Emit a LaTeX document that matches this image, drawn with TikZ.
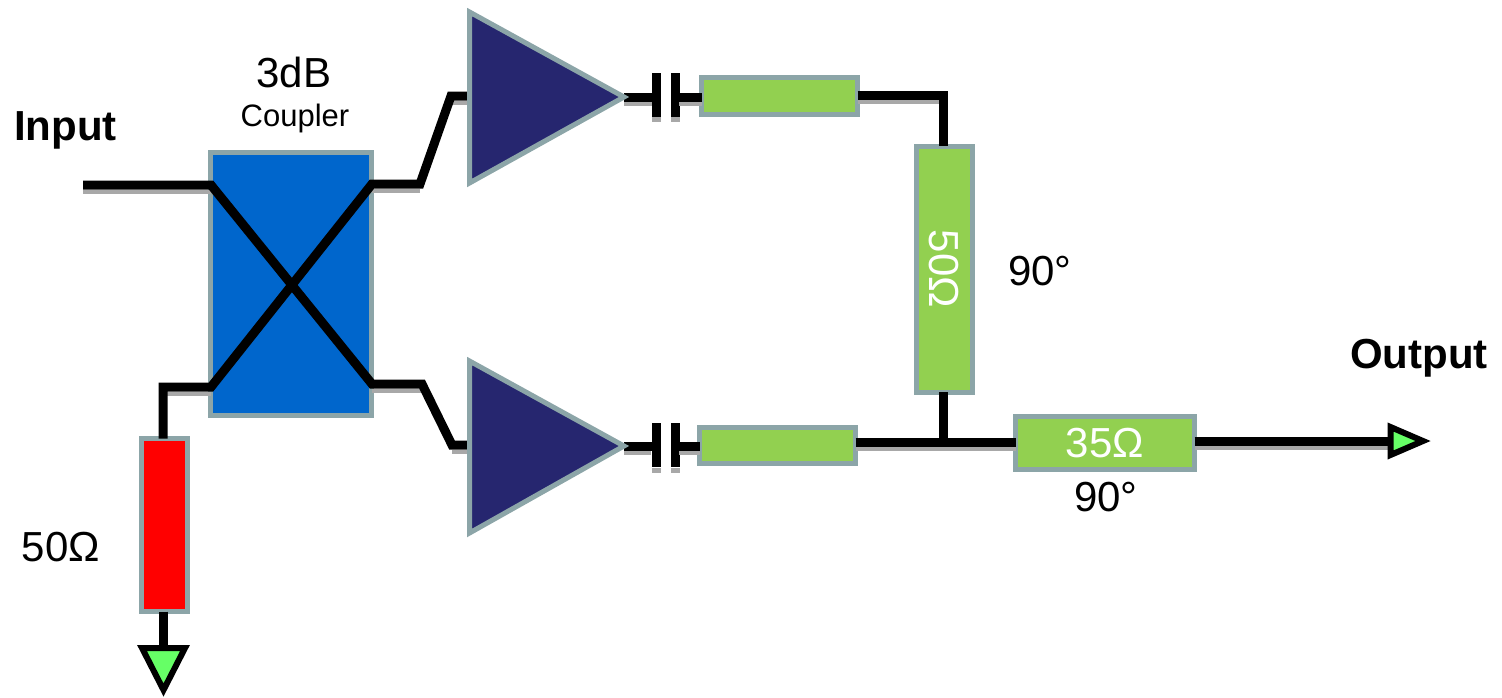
\documentclass[tikz,border=0pt]{standalone}
\usepackage{fontspec}
\setmainfont{Liberation Sans}
\definecolor{edgegray}{HTML}{8CA5A8}
\definecolor{lineG}{HTML}{92D050}
\definecolor{blueC}{HTML}{0066CC}
\definecolor{navyA}{HTML}{26266F}
\definecolor{arrowG}{HTML}{66FF66}
\definecolor{shadowG}{HTML}{A8A8A8}
\tikzset{
  x=1pt,y=-1pt,
  wire/.style={draw=black,line width=9pt,line join=miter},
  shadowwire/.style={draw=shadowG,line width=4pt},
  plate/.style={draw=none,fill=black,minimum width=9pt,minimum height=44pt,inner sep=0pt,outer sep=0pt},
  platesh/.style={draw=none,fill=shadowG,minimum width=9pt,minimum height=5pt,inner sep=0pt,outer sep=0pt},
  tline/.style={draw=edgegray,line width=5pt,inner sep=0pt,outer sep=0pt,text=white,font=\fontsize{42}{42}\selectfont},
  amp/.style={draw=edgegray,fill=navyA,line width=5pt,line join=miter},
  term/.style={draw=black,fill=arrowG,line width=6pt,line join=miter},
  lab/.style={inner sep=0pt,font=\fontsize{42}{42}\selectfont},
  blab/.style={inner sep=0pt,font=\fontsize{42}{42}\selectfont\bfseries},
}
\begin{document}
\begin{tikzpicture}
\useasboundingbox (0,0) rectangle (1502,697);
% junction and routing points
\coordinate (in) at (83,185);
\coordinate (ctl) at (211,185);
\coordinate (cbl) at (211,387);
\coordinate (ctr) at (372,184);
\coordinate (cbr) at (372,384);
\coordinate (t1) at (420,184);
\coordinate (t2) at (451,96);
\coordinate (t3) at (470,96);
\coordinate (b1) at (422,384);
\coordinate (b2) at (452,445);
\coordinate (b3) at (470,445);
\coordinate (termcorner) at (163,387);
\coordinate (topcorner) at (943,95);
\coordinate (junction) at (943,442);
% coupler and line bodies are placed first for anchors
\node[tline,fill=blueC,minimum width=160.5pt,minimum height=263pt] (coupler) at (291,284) {};
\node[tline,fill=red,minimum width=46pt,minimum height=173pt] (load) at (164.5,525) {};
\node[tline,fill=lineG,minimum width=156pt,minimum height=37pt] (tl1) at (779.5,96) {};
\node[tline,fill=lineG,minimum width=156pt,minimum height=36pt] (tl2) at (777.5,445) {};
\node[tline,fill=lineG,minimum width=56pt,minimum height=246pt] (tl3) at (944,269) {};
\node[tline,fill=lineG,minimum width=179pt,minimum height=53pt] (tl4) at (1105,443) {35Ω};
\node[rotate=-90,text=white,inner sep=0pt,font=\fontsize{42}{42}\selectfont] (tl3label) at (944,269) {50Ω};
% amplifiers
\coordinate (a1a) at (469.5,12);
\coordinate (a1b) at (469.5,183);
\coordinate (a1t) at (624,97);
\coordinate (a2a) at (469.5,361);
\coordinate (a2b) at (469.5,533);
\coordinate (a2t) at (624,446);
% capacitors
\coordinate (c1l) at (652,97);
\coordinate (c1r) at (679,97);
\coordinate (c2l) at (651,446);
\coordinate (c2r) at (679,446);
\node[platesh] (p1sh) at (656.5,119) {};
\node[platesh] (p2sh) at (675,119) {};
\node[platesh] (p3sh) at (656,470) {};
\node[platesh] (p4sh) at (675,470) {};
\node[plate] (p1) at (656.5,95) {};
\node[plate] (p2) at (675,95) {};
\node[plate] (p3) at (656,445) {};
\node[plate] (p4) at (675,445) {};
% output and terminations
\coordinate (outtip) at (1423,441);
\coordinate (outa) at (1390.5,427);
\coordinate (outb) at (1390.5,455);
\coordinate (gnda) at (142,648);
\coordinate (gndb) at (185,648);
\coordinate (gndt) at (163.5,690);
% wire shadows
\begin{scope}[shadowwire]
\draw ([yshift=-6.5pt]in) -- ([yshift=-6.5pt]ctl);
\draw ([yshift=-6.5pt]ctr) -- ([yshift=-6.5pt]t1);
\draw ([yshift=-6.5pt]cbr) -- ([yshift=-6.5pt]b1);
\draw ([yshift=-6.5pt]b2) -- ([yshift=-6.5pt]b3);
\draw ([yshift=-6.5pt]t2) -- ([yshift=-6.5pt]t3);
\draw ([yshift=-6.5pt]termcorner) -- ([yshift=-6.5pt]cbl);
\draw ([yshift=-6.5pt]a1t) -- ([yshift=-6.5pt]c1l);
\draw ([yshift=-6.5pt]c1r) -- ([yshift=-6.5pt]c1r -| tl1.west);
\draw ([yshift=-6.5pt]a2t) -- ([yshift=-6.5pt]c2l);
\draw ([yshift=-6.5pt]c2r) -- ([yshift=-6.5pt]c2r -| tl2.west);
\draw ([yshift=-6.5pt]tl1.east |- topcorner) -- ([yshift=-6.5pt]topcorner);
\draw ([yshift=-6.5pt]tl2.east |- junction) -- ([yshift=-6.5pt]tl4.west |- junction);
\draw ([yshift=-6.5pt]tl4.east |- outtip) -- ([yshift=-6.5pt]outa |- outtip);
\end{scope}
% wires
\draw[wire] (in) -- (ctl) -- (cbr) -- (b1) -- (b2) -- (b3);
\draw[wire] (load.north -| termcorner) -- (termcorner) -- (cbl) -- (ctr) -- (t1) -- (t2) -- (t3);
\draw[wire] (a1t) -- (c1l -| p1);
\draw[wire] (c1r -| p2) -- (c1r -| tl1.west);
\draw[wire] (a2t) -- (c2l -| p3);
\draw[wire] (c2r -| p4) -- (c2r -| tl2.west);
\draw[wire] (tl1.east |- topcorner) -- (topcorner) -- (tl3.north -| topcorner);
\draw[wire] (tl3.south -| junction) -- (junction);
\draw[wire] (tl2.east |- junction) -- (tl4.west |- junction);
\draw[wire] (tl4.east |- outtip) -- (outa |- outtip);
\draw[wire] (load.south -| gndt) -- (gndt |- gnda);
% shapes on top of wires
\draw[amp] (a1a) -- (a1t) -- (a1b) -- cycle;
\draw[amp] (a2a) -- (a2t) -- (a2b) -- cycle;
\draw[term] (outa) -- (outtip) -- (outb) -- cycle;
\draw[term] (gnda) -- (gndb) -- (gndt) -- cycle;
% labels
\node[lab] (db) at (294,72) {3dB};
\node[inner sep=0pt,font=\fontsize{31}{31}\selectfont] (coup) at (295,118) {Coupler};
\node[blab] (input) at (65.5,130) {Input};
\node[blab] (output) at (1419,358) {Output};
\node[lab] (l50) at (61,547) {50Ω};
\node[lab] (deg1) at (1040,271) {90°};
\node[lab] (deg2) at (1106,497) {90°};
\end{tikzpicture}
\end{document}
